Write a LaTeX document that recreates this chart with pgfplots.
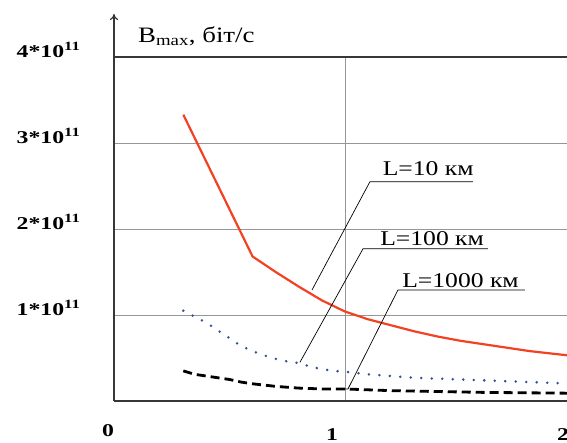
\documentclass[border=0pt]{standalone}
\usepackage{fontspec}
\setmainfont{Liberation Serif}[FakeStretch=1.22]
\newfontfamily\tickfont{Liberation Serif}[FakeStretch=1.32]
\usepackage{pgfplots}
\pgfplotsset{compat=1.18}
\usetikzlibrary{arrows.meta}
\definecolor{redline}{RGB}{242,66,34}
\definecolor{blueline}{RGB}{50,82,150}
\definecolor{gridc}{RGB}{150,150,150}
\definecolor{axc}{RGB}{55,55,55}
\begin{document}
\begin{tikzpicture}
\begin{axis}[
  at={(0,0)}, anchor=south west,
  scale only axis, width=462pt, height=344pt,
  xmin=0, xmax=2, ymin=0, ymax=4,
  axis x line=bottom, axis y line=left,
  x axis line style={-, line width=1.4pt, axc},
  y axis line style={-{To[length=6pt,width=8pt]}, line width=1.2pt, axc, shorten >=-43pt},
  xtick={1,2}, xticklabels={1,2},
  extra x ticks={0}, extra x tick labels={0},
  extra x tick style={grid=none, xticklabel style={xshift=7pt, yshift=4pt}},
  ytick={1,2,3}, yticklabels={1*10\textsuperscript{11},2*10\textsuperscript{11},3*10\textsuperscript{11}},
  extra y ticks={4}, extra y tick labels={4*10\textsuperscript{11}},
  extra y tick style={grid style={axc, line width=1.4pt}},
  major tick length=0pt,
  xmajorgrids, ymajorgrids,
  grid style={gridc, line width=0.8pt},
  xticklabel style={font=\tickfont\fontsize{18}{20}\selectfont\bfseries, xshift=-13pt, yshift=-24pt},
  yticklabel style={font=\tickfont\fontsize{18}{20}\selectfont\bfseries, anchor=east, xshift=-30pt, yshift=7pt},
  clip=false,
]
\addplot[redline, line width=2.2pt, line join=round] coordinates {
 (0.30,3.33) (0.60,1.68) (0.70,1.50) (0.80,1.33) (0.90,1.17) (1.00,1.04)
 (1.10,0.95) (1.20,0.88) (1.30,0.81) (1.40,0.75) (1.50,0.70) (1.60,0.66)
 (1.70,0.62) (1.80,0.58) (1.90,0.55) (2.00,0.52)};
\addplot[blueline, line width=2.8pt, line cap=round, dash pattern=on 0pt off 10.5pt] coordinates {
 (0.30,1.05) (0.35,0.98) (0.40,0.91) (0.45,0.82) (0.50,0.73) (0.55,0.64)
 (0.60,0.58) (0.65,0.53) (0.70,0.49) (0.75,0.46) (0.80,0.44) (0.85,0.40)
 (0.90,0.37) (0.95,0.35) (1.00,0.34) (1.10,0.31) (1.20,0.29) (1.30,0.27)
 (1.40,0.26) (1.50,0.25) (1.60,0.24) (1.70,0.23) (1.80,0.22) (1.90,0.21)
 (2.00,0.20)};
\addplot[black, line width=2.8pt, dash pattern=on 9pt off 5pt] coordinates {
 (0.30,0.35) (0.35,0.31) (0.40,0.29) (0.45,0.27) (0.50,0.25) (0.55,0.22)
 (0.60,0.20) (0.70,0.17) (0.80,0.15) (0.90,0.14) (1.00,0.14) (1.20,0.12)
 (1.40,0.11) (1.60,0.10) (1.80,0.095) (2.00,0.09)};
% annotations
\draw[black, line width=0.7pt] (axis cs:0.857,1.29) -- (axis cs:1.108,2.55) -- (axis cs:1.554,2.55);
\draw[black, line width=0.7pt] (axis cs:0.805,0.45) -- (axis cs:1.078,1.77) -- (axis cs:1.619,1.77);
\draw[black, line width=0.7pt] (axis cs:0.98,0.14) -- (axis cs:1.013,0.14) -- (axis cs:1.229,1.29) -- (axis cs:1.779,1.29);
\node[anchor=base, inner sep=0pt, font=\fontsize{21}{24}\selectfont, yshift=6pt] at (axis cs:1.36,2.55) {L=10 км};
\node[anchor=base, inner sep=0pt, font=\fontsize{21}{24}\selectfont, yshift=3pt] at (axis cs:1.377,1.77) {L=100 км};
\node[anchor=base, inner sep=0pt, font=\fontsize{21}{24}\selectfont, yshift=3pt] at (axis cs:1.50,1.29) {L=1000 км};
\node[anchor=west, inner sep=0pt, font=\fontsize{22}{24}\selectfont] at (axis cs:0.104,4.24) {B\textsubscript{max}, біт/с};
\end{axis}
\pgfresetboundingbox
\path (-114pt,-42pt) rectangle (453pt,401pt);
\end{tikzpicture}
\end{document}
